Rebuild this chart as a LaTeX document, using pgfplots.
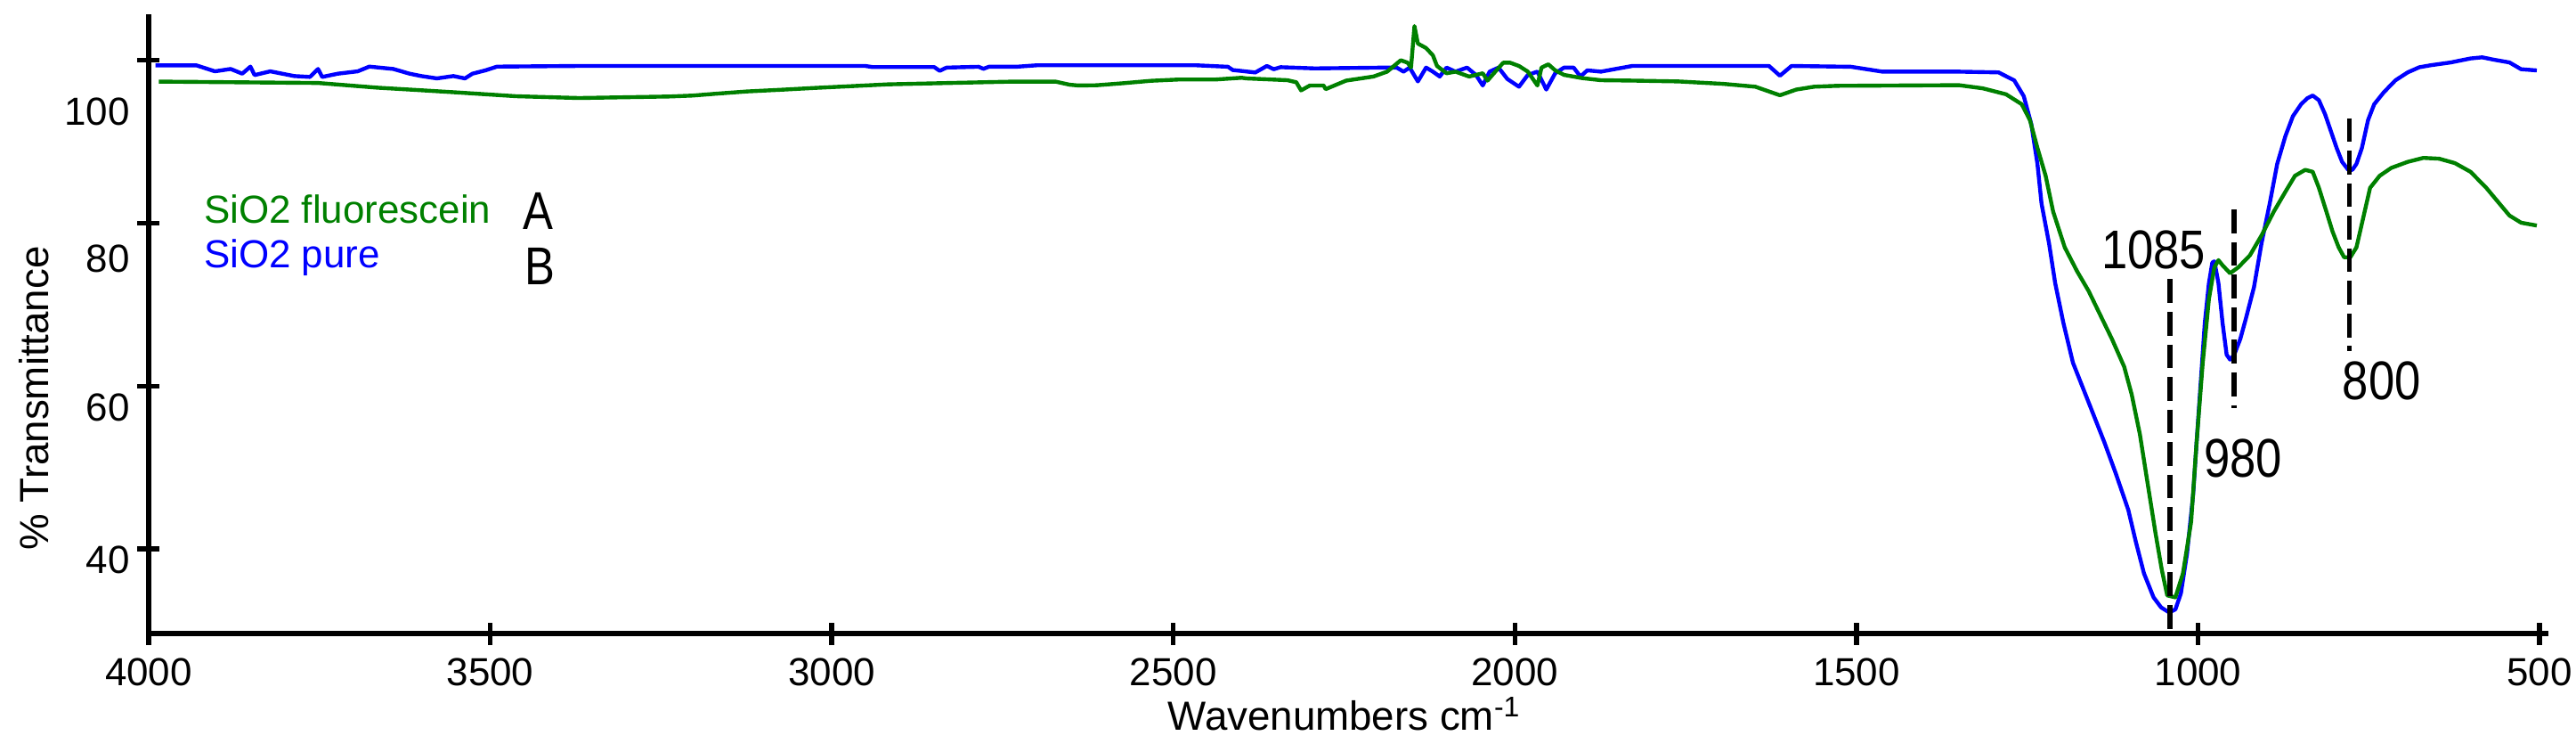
\documentclass[border=0pt]{standalone}
\usepackage{fontspec}
\setmainfont{Liberation Sans}
\usepackage{pgfplots}
\pgfplotsset{compat=1.18}
\definecolor{spgreen}{RGB}{0,128,0}
\definecolor{spblue}{RGB}{0,0,255}
\begin{document}
\begin{tikzpicture}
\path[use as bounding box] (-1.67,-1.23) rectangle (27.26,7.11);
\begin{axis}[
  at={(0,0)}, anchor=south west,
  scale only axis, width=26.95cm, height=6.95cm,
  x dir=reverse, xmin=487, xmax=4000, ymin=29.6, ymax=105.65,
  axis x line*=bottom, axis y line*=left,
  axis line style={-, line width=1.8pt, black},
  xtick={500,1000,1500,2000,2500,3000,3500,4000},
  xticklabels={500,1000,1500,2000,2500,3000,3500,4000},
  ytick={40,60,80,100}, yticklabels={,,,},
  extra y ticks={38.69,57.40,75.67,93.72},
  extra y tick labels={40,60,80,100},
  extra y tick style={major tick length=0pt},
  tick align=center, major tick length=0.25cm,
  tick style={line width=1.5pt, black},
  ticklabel style={font=\fontsize{12.5}{15}\selectfont},
  yticklabel style={xshift=-0.09cm},
  xticklabel style={yshift=-0.03cm},
  xlabel={Wavenumbers cm\textsuperscript{-1}},
  ylabel={\% Transmittance},
  every axis x label/.style={at={(rel axis cs:0.4983,-0.1568)}, anchor=base, font=\fontsize{13}{15}\selectfont},
  every axis y label/.style={at={(rel axis cs:-0.0479,0.38)}, rotate=90, anchor=center, font=\fontsize{13}{15}\selectfont},
  clip=true,
]
\addplot[spblue, line width=1.25pt, line join=round] table[x=w, y=t] {
w t
3990 99.37
3930 99.37
3903 98.64
3880 98.93
3863 98.35
3851 99.22
3845 98.18
3822 98.64
3787 98.06
3764 97.95
3752 98.93
3746 97.95
3723 98.35
3694 98.64
3677 99.22
3642 98.93
3618 98.35
3601 98.06
3578 97.77
3554 98.06
3537 97.77
3526 98.35
3507 98.76
3490 99.22
3370 99.30
2951 99.30
2940 99.16
2850 99.16
2842 98.70
2832 99.10
2785 99.20
2778 98.95
2770 99.20
2730 99.20
2700 99.38
2466 99.38
2420 99.20
2413 98.80
2380 98.50
2363 99.30
2353 98.90
2343 99.15
2293 99.00
2190 99.10
2173 99.10
2163 98.60
2154 99.10
2142 97.40
2130 99.10
2120 98.60
2110 98.00
2100 99.10
2087 98.60
2070 99.10
2057 98.20
2047 96.90
2037 98.60
2024 99.10
2011 97.70
1994 96.75
1981 98.20
1967 98.60
1954 96.40
1941 98.40
1928 99.10
1914 99.10
1904 98.00
1894 98.76
1874 98.60
1848 99.00
1828 99.30
1628 99.30
1612 98.10
1595 99.30
1508 99.20
1462 98.60
1350 98.60
1292 98.51
1269 97.53
1255 95.58
1244 92.16
1235 87.27
1229 82.39
1218 77.50
1209 72.62
1197 67.74
1183 62.85
1160 57.97
1137 53.08
1120 49.18
1102 44.78
1091 40.88
1079 36.97
1065 34.04
1054 32.81
1042 32.18
1033 32.57
1025 34.53
1016 39.41
1007 46.73
1002 53.08
996 60.41
990 67.74
984 72.62
979 75.16
976 75.31
970 72.62
964 67.74
958 63.83
953 63.24
947 63.83
938 65.78
930 68.23
918 72.13
907 77.50
895 82.39
884 87.27
872 90.69
861 93.13
849 94.60
840 95.33
832 95.67
823 95.09
814 93.38
806 91.43
797 89.23
789 87.52
780 86.54
774 86.54
768 87.27
760 89.23
751 92.65
742 94.60
728 96.06
711 97.53
693 98.51
676 99.14
659 99.39
630 99.73
601 100.22
584 100.36
567 100.07
544 99.73
527 98.90
504 98.75
};
\addplot[spgreen, line width=1.25pt, line join=round] table[x=w, y=t] {
w t
3985 97.38
3752 97.21
3665 96.63
3606 96.34
3549 96.05
3462 95.58
3370 95.36
3271 95.50
3237 95.55
3204 95.66
3171 95.88
3124 96.17
3071 96.39
3025 96.60
2971 96.82
2918 97.04
2838 97.19
2739 97.37
2672 97.37
2652 97.00
2639 96.90
2612 96.93
2572 97.19
2532 97.48
2493 97.63
2439 97.63
2400 97.85
2393 97.77
2333 97.55
2320 97.30
2313 96.30
2300 96.90
2280 96.90
2277 96.45
2247 97.50
2207 98.00
2187 98.60
2167 100.00
2157 99.70
2152 99.10
2147 104.20
2142 102.05
2130 101.50
2120 100.60
2114 99.30
2100 98.40
2087 98.60
2067 98.00
2047 98.40
2040 97.50
2027 98.76
2017 99.70
2007 99.70
1994 99.30
1981 98.60
1967 96.90
1961 99.10
1951 99.50
1941 98.76
1928 98.20
1901 97.80
1874 97.55
1828 97.50
1761 97.40
1695 97.10
1648 96.75
1612 95.70
1588 96.40
1562 96.75
1528 96.86
1350 96.94
1315 96.55
1281 95.82
1258 94.60
1246 92.65
1235 89.23
1223 85.81
1212 81.41
1195 77.02
1177 74.09
1160 71.65
1143 68.71
1126 65.78
1108 62.36
1097 58.95
1085 54.06
1074 48.20
1062 41.85
1053 37.45
1045 34.28
1033 34.04
1022 36.97
1010 43.32
1002 53.08
993 62.85
984 70.67
976 74.57
970 75.45
964 74.82
953 73.84
941 74.57
924 76.04
907 78.48
889 81.41
872 83.85
858 85.81
843 86.54
832 86.30
823 84.34
812 81.41
803 78.97
794 77.02
786 75.80
777 75.80
768 77.02
760 79.95
748 84.34
734 85.81
717 86.78
693 87.52
670 88.01
647 87.91
624 87.37
601 86.30
578 84.34
561 82.63
544 80.93
527 80.05
504 79.70
};
% peak marker lines
\addplot[black, line width=1.5pt, dash pattern=on 7.6pt off 2.8pt] coordinates {(1041,73.1) (1041,29.6)};
\addplot[black, line width=1.5pt, dash pattern=on 7.6pt off 2.8pt] coordinates {(947,81.66) (947,57.23)};
\addplot[black, line width=1.5pt, dash pattern=on 7.6pt off 2.8pt] coordinates {(778,92.9) (778,64.3)};
\node[anchor=center, inner sep=0pt] at (axis cs:1065,76.76) {\scalebox{0.86}[1]{\fontsize{17.4}{20}\selectfont 1085}};
\node[anchor=center, inner sep=0pt] at (axis cs:934,51.16) {\scalebox{0.86}[1]{\fontsize{17.4}{20}\selectfont 980}};
\node[anchor=center, inner sep=0pt] at (axis cs:731,60.68) {\scalebox{0.86}[1]{\fontsize{17.4}{20}\selectfont 800}};
% series labels
\node[font=\fontsize{12.5}{15}\selectfont, text=spgreen, anchor=base west, inner sep=0pt] at (axis cs:3920,80.04) {SiO2 fluorescein};
\node[font=\fontsize{12.5}{15}\selectfont, text=spblue, anchor=base west, inner sep=0pt] at (axis cs:3920,74.57) {SiO2 pure};
\node[anchor=base west, inner sep=0pt] at (axis cs:3453,79.17) {\scalebox{0.85}[1]{\fontsize{17}{20}\selectfont A}};
\node[anchor=base west, inner sep=0pt] at (axis cs:3450,72.4) {\scalebox{0.85}[1]{\fontsize{17}{20}\selectfont B}};
\end{axis}
\end{tikzpicture}
\end{document}
